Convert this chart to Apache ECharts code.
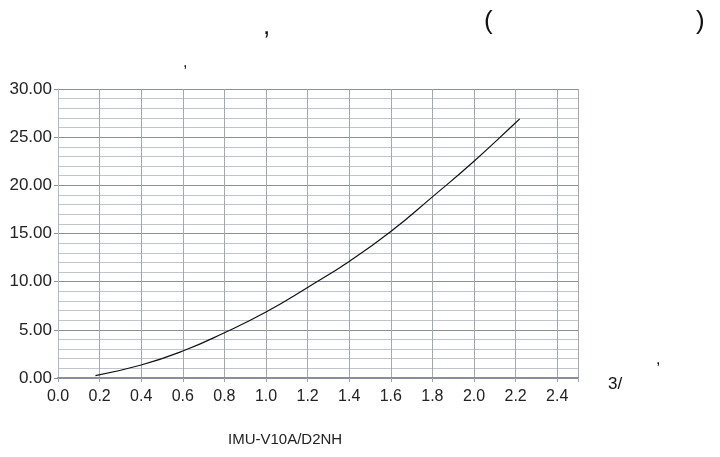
<!DOCTYPE html>
<html>
<head>
<meta charset="utf-8">
<script src="https://cdn.jsdelivr.net/npm/echarts@6/dist/echarts.min.js"></script>
<style>
  html, body { margin: 0; padding: 0; background: #fff; }
  #main { width: 720px; height: 457px; }
</style>
</head>
<body>
<div id="main"></div>
<script>
// flow (x) vs pressure loss (y)
var flowX = [0.18, 0.4, 0.6, 0.8, 1.0, 1.2, 1.4, 1.6, 1.8, 2.0, 2.2, 2.22];
var lossY = [0.25, 1.35, 2.8, 4.7, 6.85, 9.4, 12.1, 15.2, 18.8, 22.5, 26.5, 26.9];
var modelName = 'IMU-V10A/D2NH';

var FONT = '"Liberation Sans", Arial, sans-serif';

function init() {
    var points = flowX.map(function (x, i) { return [x, lossY[i]]; });
    var myChart = echarts.init(document.getElementById('main'));
    var option = {
        animation: false,
        backgroundColor: '#fff',
        grid: { left: 58, right: 142, top: 89, bottom: 79 },
        xAxis: {
            type: 'value',
            min: 0, max: 2.5, interval: 0.2,
            axisLine: { show: true, onZero: false, lineStyle: { color: '#8a8e98', width: 2 } },
            axisTick: { show: true, length: 4, lineStyle: { color: '#a0a4ae' } },
            axisLabel: {
                color: '#222', fontFamily: FONT, fontSize: 16, margin: 11,
                formatter: function (v) { return v > 2.45 ? '' : v.toFixed(1); }
            },
            splitLine: { show: true, lineStyle: { color: '#a4a8b2', width: 1 } }
        },
        yAxis: {
            type: 'value',
            min: 0, max: 30, interval: 5,
            axisLine: { show: true, lineStyle: { color: '#b4b8c0' } },
            axisTick: { show: true, length: 4, lineStyle: { color: '#8a8e98' } },
            axisLabel: {
                color: '#222', fontFamily: FONT, fontSize: 17, margin: 6,
                formatter: function (v) { return v.toFixed(2); }
            },
            splitLine: { show: true, lineStyle: { color: '#8a8e98', width: 1 } },
            minorTick: { show: false, splitNumber: 5 },
            minorSplitLine: { show: true, lineStyle: { color: '#c0c4cc', width: 1 } }
        },
        series: [{
            type: 'line',
            data: points,
            smooth: true,
            showSymbol: false,
            lineStyle: { color: '#111', width: 1.2 }
        }],
        graphic: [
            { type: 'text', left: 263, top: 14, style: { text: ',', font: '26px ' + FONT, fill: '#111' } },
            { type: 'text', left: 484, top: 9, style: { text: '(', font: '26px ' + FONT, fill: '#111' } },
            { type: 'text', left: 696, top: 9, style: { text: ')', font: '26px ' + FONT, fill: '#111' } },
            { type: 'text', left: 183, top: 55, style: { text: ',', font: '16px ' + FONT, fill: '#111' } },
            { type: 'text', left: 608, top: 376, style: { text: '3/', font: '17px ' + FONT, fill: '#111' } },
            { type: 'text', left: 656, top: 352, style: { text: ',', font: '16px ' + FONT, fill: '#111' } },
            { type: 'text', left: 228, top: 432, style: { text: modelName, font: '15px ' + FONT, fill: '#222' } }
        ]
    };
    myChart.setOption(option);
}

init();
</script>
</body>
</html>
